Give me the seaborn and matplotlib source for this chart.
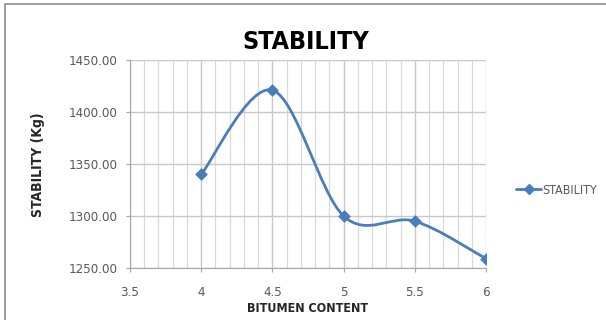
import numpy as np
import pandas as pd
import matplotlib
matplotlib.use("Agg")
import matplotlib.pyplot as plt
import seaborn as sns
from matplotlib.path import Path
from matplotlib.patches import PathPatch, Rectangle
from matplotlib.lines import Line2D
from matplotlib.ticker import MultipleLocator, FormatStrFormatter

# Marshall stability vs bitumen content
bitumen_content = [4.0, 4.5, 5.0, 5.5, 6.0]
stability_kg = [1340.0, 1421.0, 1300.0, 1295.0, 1259.0]
x_ticks = [3.5, 4, 4.5, 5, 5.5, 6]
y_ticks = [1250, 1300, 1350, 1400, 1450]

sns.set_style("white")
plt.rcParams["font.family"] = ["DejaVu Sans"]
plt.rcParams["font.stretch"] = "condensed"

BLUE = "#4A7EBB"
TEXT = "#595959"

df = pd.DataFrame({"BITUMEN CONTENT": bitumen_content, "STABILITY": stability_kg})

fig = plt.figure(figsize=(6.06, 3.2), dpi=100)
ax = fig.add_axes([130 / 606, 1 - 268 / 320, (486 - 130) / 606, (268 - 60) / 320])

# chart frame
fig.patches.append(Rectangle((5 / 606, -0.05), 1.2, 1 - 4 / 320 + 0.05,
                             transform=fig.transFigure, fill=False,
                             edgecolor="#8c8c8c", linewidth=1.2, zorder=0))

# smoothed line: cubic Bezier segments through each data point
px = np.array(bitumen_content)
py = np.array(stability_kg)
n = len(px)
verts = [(px[0], py[0])]
codes = [Path.MOVETO]
for i in range(n - 1):
    p_prev = (px[max(i - 1, 0)], py[max(i - 1, 0)])
    p0 = (px[i], py[i])
    p1 = (px[i + 1], py[i + 1])
    p_next = (px[min(i + 2, n - 1)], py[min(i + 2, n - 1)])
    c1 = (p0[0] + (p1[0] - p_prev[0]) / 6, p0[1] + (p1[1] - p_prev[1]) / 6)
    c2 = (p1[0] - (p_next[0] - p0[0]) / 6, p1[1] - (p_next[1] - p0[1]) / 6)
    verts += [c1, c2, p1]
    codes += [Path.CURVE4] * 3
ax.add_patch(PathPatch(Path(verts, codes), facecolor="none", edgecolor=BLUE,
                       linewidth=2.0, zorder=3, capstyle="round", joinstyle="round"))

sns.scatterplot(data=df, x="BITUMEN CONTENT", y="STABILITY", ax=ax, marker="D",
                s=36, color=BLUE, edgecolor=BLUE, zorder=4, legend=False)

ax.set_xlim(3.5, 6)
ax.set_ylim(1250, 1450)
ax.set_xticks(x_ticks)
ax.set_xticklabels([f"{v:g}" for v in x_ticks])
ax.xaxis.set_minor_locator(MultipleLocator(0.1))
ax.set_yticks(y_ticks)
ax.yaxis.set_major_formatter(FormatStrFormatter("%.2f"))

ax.grid(True, which="major", axis="both", color="#c8c8c8", linewidth=1.0)
ax.grid(True, which="minor", axis="x", color="#d9d9d9", linewidth=0.9)
ax.set_axisbelow(True)

for side in ["top", "right"]:
    ax.spines[side].set_visible(False)
ax.spines["left"].set_color("#a6a6a6")
ax.spines["bottom"].set_color("#a6a6a6")

ax.tick_params(axis="both", which="major", labelsize=9.5, labelcolor=TEXT,
               length=3, color="#a6a6a6", direction="out", pad=6)
ax.tick_params(axis="x", which="major", pad=10)
ax.tick_params(axis="x", which="minor", length=0)
ax.tick_params(left=True, bottom=True)

ax.set_xlabel("")
ax.set_ylabel("")
fig.text(308 / 606, 1 - 309 / 320, "BITUMEN CONTENT", ha="center", va="center",
         fontsize=9, fontweight="bold", color="#262626")
fig.text(38 / 606, 1 - 165 / 320, "STABILITY (Kg)", ha="center", va="center",
         rotation=90, fontsize=10, fontweight="bold", color="#262626")
fig.text(306 / 606, 1 - 42 / 320, "STABILITY", ha="center", va="center",
         fontsize=18, fontweight="bold", color="black")

handle = Line2D([0], [0], color=BLUE, linewidth=2.0, marker="D", markersize=5)
fig.legend([handle], ["STABILITY"], loc="center left",
           bbox_to_anchor=(516 / 606, 1 - 190 / 320), frameon=False,
           fontsize=9, labelcolor=TEXT, handlelength=2.0, handletextpad=0.1,
           borderaxespad=0, borderpad=0)

fig.savefig("out.png", dpi=100)
